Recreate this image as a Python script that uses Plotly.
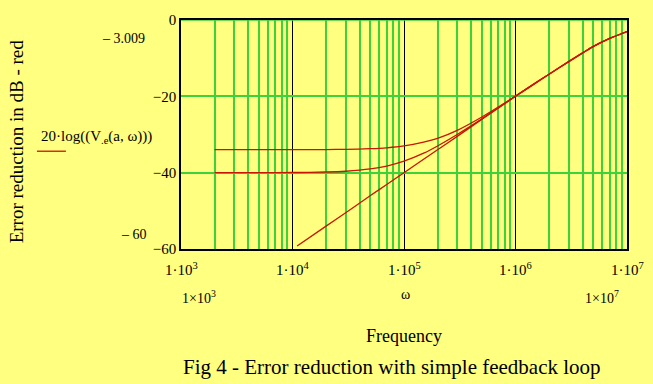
import math
import plotly.graph_objects as go

# ---- data ----
freq_a = [2e3, 5e3, 1e4, 2e4, 3e4, 5e4, 7e4, 1e5, 1.5e5, 2e5, 3e5, 5e5, 7e5,
          1e6, 1.5e6, 2e6, 3e6, 5e6, 7e6, 1e7]
err_a002 = [-33.98, -33.98, -33.97, -33.94, -33.88, -33.72, -33.48, -33.0, -32.0,
            -31.0, -28.9, -25.4, -22.8, -19.9, -16.5, -14.2, -10.9, -6.9, -4.8, -3.01]
err_a001 = [-40.0, -39.99, -39.96, -39.83, -39.63, -39.03, -38.27, -37.0, -34.9,
            -33.0, -30.0, -25.9, -23.0, -20.0, -16.6, -14.2, -10.9, -6.9, -4.8, -3.01]
freq_b = [1.1e4, 2e4, 3e4, 5e4, 7e4, 1e5, 1.5e5, 2e5, 3e5, 5e5, 7e5, 1e6, 1.5e6,
          2e6, 3e6, 5e6, 7e6, 1e7]
err_a0 = [-59.2, -54.0, -50.5, -46.0, -43.1, -40.0, -36.5, -34.0, -30.5, -26.0,
          -23.1, -20.0, -16.6, -14.2, -10.9, -6.9, -4.8, -3.01]

x_ticks = [1e3, 1e4, 1e5, 1e6, 1e7]
x_ticklabels = ["1·10<sup>3</sup>", "1·10<sup>4</sup>", "1·10<sup>5</sup>",
                "1·10<sup>6</sup>", "1·10<sup>7</sup>"]
x_minor = [m * d for d in [1e3, 1e4, 1e5, 1e6] for m in range(2, 10)]
y_ticks = [0, -20, -40, -60]
y_ticklabels = ["0", "−20", "−40", "−60"]

BG = "#FFFF80"
GREEN = "#3CD23C"
RED = "#C81400"
FONT = "Liberation Serif"

fig = go.Figure()
for xs, ys in [(freq_a, err_a002), (freq_a, err_a001), (freq_b, err_a0)]:
    fig.add_trace(go.Scatter(x=xs, y=ys, mode="lines",
                             line=dict(color=RED, width=1.3, shape="spline", smoothing=0.6),
                             showlegend=False, hoverinfo="skip"))

fig.update_layout(
    width=653, height=384,
    margin=dict(l=181, r=26, t=17, b=135),
    paper_bgcolor=BG, plot_bgcolor=BG,
    font=dict(family=FONT, size=14, color="black"),
    showlegend=False,
)
fig.update_xaxes(
    type="log", range=[3, 7],
    tickvals=x_ticks, ticktext=[""] * len(x_ticks),
    showgrid=True, gridcolor="black", gridwidth=1.2,
    minor=dict(tickvals=x_minor, showgrid=True, gridcolor=GREEN, gridwidth=1.5, ticklen=0),
    showline=True, linecolor="black", linewidth=1.5, mirror=True,
    ticks="", zeroline=False,
)
fig.update_yaxes(
    range=[-60, 0],
    tickvals=y_ticks, ticktext=y_ticklabels,
    tickfont=dict(family=FONT, size=15),
    showgrid=True, gridcolor=GREEN, gridwidth=1.5,
    showline=True, linecolor="black", linewidth=1.5, mirror=True,
    ticks="", zeroline=False,
)
# green top edge (grid at 0 dB) drawn over the frame
fig.add_shape(type="line", xref="paper", yref="y", x0=0, x1=1, y0=y_ticks[0], y1=y_ticks[0],
              line=dict(color=GREEN, width=1.5), layer="above")

# x tick labels
for v, t in zip(x_ticks, x_ticklabels):
    fig.add_annotation(x=math.log10(v), y=0, xref="x", yref="paper", text=t,
                       showarrow=False, yanchor="top", yshift=-9,
                       font=dict(family=FONT, size=15))

anns = [
    dict(x=-0.076, y=0.918, text="– 3.009", xanchor="right", size=14),
    dict(x=-0.072, y=0.065, text="– 60", xanchor="right", size=14),
    dict(x=0.04, y=-0.208, text="1×10<sup>3</sup>", xanchor="center", size=14),
    dict(x=0.945, y=-0.208, text="1×10<sup>7</sup>", xanchor="center", size=14),
    dict(x=0.503, y=-0.2, text="ω", xanchor="center", size=14),
    dict(x=0.5, y=-0.38, text="Frequency", xanchor="center", size=18),
    dict(x=0.474, y=-0.515, text="Fig 4 - Error reduction with simple feedback loop",
         xanchor="center", size=21),
    dict(x=-0.19, y=0.49, text="20·log((V<sub>.e</sub>(a, ω)))", xanchor="center", size=15),
]
for a in anns:
    fig.add_annotation(x=a["x"], y=a["y"], xref="paper", yref="paper", text=a["text"],
                       showarrow=False, xanchor=a["xanchor"], yanchor="middle",
                       font=dict(family=FONT, size=a["size"], color="black"))

# y axis title
fig.add_annotation(x=-0.37, y=0.47, xref="paper", yref="paper",
                   text="Error reduction in dB - red", textangle=-90, showarrow=False,
                   xanchor="center", yanchor="middle",
                   font=dict(family=FONT, size=19, color="black"))
# legend sample line
fig.add_shape(type="line", xref="paper", yref="paper", x0=-0.323, x1=-0.258, y0=0.427, y1=0.427,
              line=dict(color=RED, width=1.3))

fig.write_html("out.html", config={"displayModeBar": False},
               post_script="document.body.style.margin='0';document.body.style.overflow='hidden';")
